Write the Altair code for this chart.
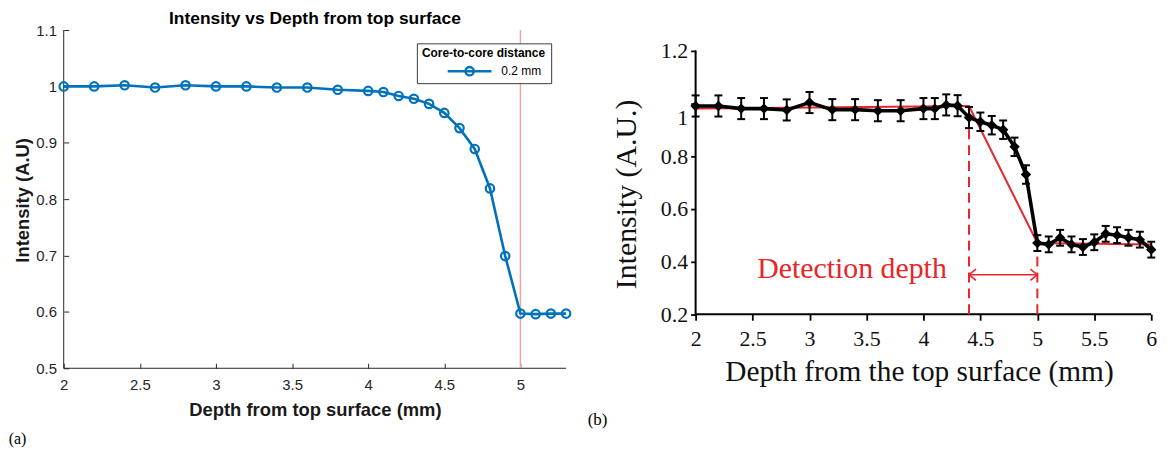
import altair as alt
import pandas as pd

# ---------------- panel (a) data ----------------
depth_a = [2.0, 2.2, 2.4, 2.6, 2.8, 3.0, 3.2, 3.4, 3.6, 3.8, 4.0, 4.1, 4.2, 4.3,
           4.4, 4.5, 4.6, 4.7, 4.8, 4.9, 5.0, 5.1, 5.2, 5.3]
intensity_a = [1.000, 1.000, 1.002, 0.998, 1.002, 1.000, 1.000, 0.998, 0.998, 0.994,
               0.992, 0.990, 0.983, 0.978, 0.969, 0.953, 0.926, 0.889, 0.819, 0.699,
               0.597, 0.596, 0.597, 0.597]
series_a = "0.2 mm"
xline_a = [5.0]
xticks_a = [2, 2.5, 3, 3.5, 4, 4.5, 5]
yticks_a = [0.5, 0.6, 0.7, 0.8, 0.9, 1.0, 1.1]
xdomain_a = [2, 5.3]
ydomain_a = [0.5, 1.1]

# ---------------- panel (b) data ----------------
depth_b = [2.0, 2.2, 2.4, 2.6, 2.8, 3.0, 3.2, 3.4, 3.6, 3.8, 4.0, 4.1, 4.2, 4.3,
           4.4, 4.5, 4.6, 4.7, 4.8, 4.9, 5.0, 5.1, 5.2, 5.3, 5.4, 5.5, 5.6, 5.7,
           5.8, 5.9, 6.0]
intensity_b = [0.990, 0.990, 0.980, 0.980, 0.975, 1.003, 0.976, 0.976, 0.972, 0.972,
               0.980, 0.980, 0.994, 0.991, 0.946, 0.930, 0.917, 0.900, 0.835, 0.730,
               0.470, 0.465, 0.490, 0.465, 0.455, 0.473, 0.505, 0.500, 0.490, 0.483,
               0.445]
error_b = [0.040, 0.040, 0.040, 0.040, 0.040, 0.040, 0.040, 0.040, 0.040, 0.040,
           0.040, 0.040, 0.040, 0.040, 0.040, 0.035, 0.035, 0.035, 0.035, 0.035,
           0.030, 0.030, 0.030, 0.030, 0.030, 0.030, 0.030, 0.030, 0.030, 0.030,
           0.030]
fit_depth = [2.0, 4.4, 5.0, 6.0]
fit_intensity = [0.980, 0.990, 0.470, 0.465]
marker_depth = [4.4, 5.0]
marker_top = [0.905, 0.440]
arrow_level = 0.35
note_text = "Detection depth"
note_depth = 2.54
note_level = 0.338
xticks_b = [2, 2.5, 3, 3.5, 4, 4.5, 5, 5.5, 6]
yticks_b = [0.2, 0.4, 0.6, 0.8, 1.0, 1.2]
xdomain_b = [2, 6]
ydomain_b = [0.2, 1.278]

SANS = "Liberation Sans"
SERIF = "Liberation Serif"
GRAY = "#262626"
BLUE = "#0072BD"
RED = "#e8262a"

W_A, H_A = 505, 340
W_B, H_B = 458, 285.7

# ================= panel (a) =================
sx_a = alt.Scale(domain=xdomain_a, nice=False, zero=False)
sy_a = alt.Scale(domain=ydomain_a, nice=False, zero=False)
ax_xa = alt.Axis(values=xticks_a, format="~g", title="Depth from top surface (mm)",
                 domain=False, grid=False, offset=-5, tickSize=5, tickWidth=1,
                 tickColor=GRAY, labelPadding=9.6, labelFont=SANS, labelFontSize=15,
                 labelColor=GRAY, labelFlush=False, labelOverlap=False,
                 titleFont=SANS, titleFontSize=18.5, titleFontWeight="bold",
                 titleColor="#1a1a1a", titleX=W_A / 2, titleY=52.4,
                 titleBaseline="alphabetic", titleAlign="center")
ax_ya = alt.Axis(values=yticks_a, format="~g", title="Intensity (A.U)",
                 domain=False, grid=False, offset=-5, tickSize=5, tickWidth=1,
                 tickColor=GRAY, labelPadding=7.3, labelFont=SANS, labelFontSize=15,
                 labelColor=GRAY, labelFlush=False, labelOverlap=False,
                 titleFont=SANS, titleFontSize=18.5, titleFontWeight="bold",
                 titleColor="#1a1a1a", titleX=-40, titleY=170.7, titleAngle=-90,
                 titleBaseline="alphabetic", titleAlign="center")


def XA(field):
    return alt.X(field, type="quantitative", scale=sx_a, axis=ax_xa)


def YA(field):
    return alt.Y(field, type="quantitative", scale=sy_a, axis=ax_ya)


legend_a = alt.Legend(
    orient="none", legendX=355, legendY=13.4, title="Core-to-core distance",
    titleFont=SANS, titleFontSize=12, titleFontWeight="bold", titleColor="#000000",
    titleAnchor="middle", titlePadding=4, labelFont=SANS, labelFontSize=12,
    labelColor="#000000", strokeColor="#3a3a3a", fillColor="#ffffff", padding=5,
    symbolType="M-1,0L1,0M-0.19,0A0.19,0.19,0,1,1,0.19,0A0.19,0.19,0,1,1,-0.19,0",
    symbolSize=1936, symbolStrokeWidth=2.5, symbolFillColor="transparent",
    clipHeight=14, symbolOffset=20.5, labelOffset=8.4)
color_a = alt.Color("series:N", scale=alt.Scale(range=[BLUE]), legend=legend_a)

df_a = pd.DataFrame({"depth": depth_a, "intensity": intensity_a, "series": series_a})
frame_a = pd.DataFrame({"x": [xdomain_a[0]], "x2": [xdomain_a[1]],
                        "y": [ydomain_a[0]], "y2": [ydomain_a[1]]})

axis_x_line_a = alt.Chart(frame_a).mark_rule(color=GRAY, strokeWidth=1).encode(
    x=XA("x"), x2="x2", y=YA("y"))
axis_y_line_a = alt.Chart(frame_a).mark_rule(color=GRAY, strokeWidth=1).encode(
    x=XA("x"), y=YA("y"), y2="y2")
xline = alt.Chart(pd.DataFrame({"x": xline_a})).mark_rule(
    color="#f4a3a3", strokeWidth=1.5).encode(x=XA("x"))
line_a = alt.Chart(df_a).mark_line(strokeWidth=2.6).encode(
    x=XA("depth"), y=YA("intensity"), color=color_a)
pts_a = alt.Chart(df_a).mark_point(shape="circle", size=72, filled=False,
                                   strokeWidth=2.2, opacity=1).encode(
    x=XA("depth"), y=YA("intensity"), color=color_a)
lab_a = alt.Chart(pd.DataFrame({"t": ["(a)"]})).mark_text(
    align="left", baseline="alphabetic", font=SERIF, fontSize=16, color="#000000"
).encode(text="t:N", x=alt.value(-55.3), y=alt.value(416))

panel_a = alt.layer(axis_x_line_a, axis_y_line_a, xline, line_a, pts_a, lab_a).properties(
    width=W_A, height=H_A,
    title=alt.TitleParams("Intensity vs Depth from top surface", font=SANS, fontSize=17.5,
                          fontWeight="bold", color="#000000", anchor="middle",
                          frame="group", offset=-18, baseline="alphabetic"))

# ================= panel (b) =================
sx_b = alt.Scale(domain=xdomain_b, nice=False, zero=False)
sy_b = alt.Scale(domain=ydomain_b, nice=False, zero=False)
ax_xb = alt.Axis(values=xticks_b, format="~g", title="Depth from the top surface (mm)",
                 domain=False, grid=False, tickSize=6, tickWidth=1.8, tickColor="#000000",
                 labelPadding=8, labelFont=SERIF, labelFontSize=22, labelColor="#111111",
                 labelFlush=False, labelOverlap=False, titleFont=SERIF, titleFontSize=29.5,
                 titleFontWeight="normal", titleColor="#111111", titleX=224.5, titleY=66.7,
                 titleBaseline="alphabetic", titleAlign="center")
ax_yb = alt.Axis(values=yticks_b, format="~g", title="Intensity (A.U.)",
                 domain=False, grid=False, tickSize=5, tickWidth=1.8, tickColor="#000000",
                 labelPadding=3, labelFont=SERIF, labelFontSize=22, labelColor="#111111",
                 labelFlush=False, labelOverlap=False,
                 labelOffset={"condition": {"test": "datum.value === 1", "value": 14},
                              "value": 0},
                 titleFont=SERIF, titleFontSize=30, titleFontWeight="normal",
                 titleColor="#111111", titleX=-60.5, titleY=164.7, titleAngle=-90,
                 titleBaseline="alphabetic", titleAlign="center")


def XB(field):
    return alt.X(field, type="quantitative", scale=sx_b, axis=ax_xb)


def YB(field):
    return alt.Y(field, type="quantitative", scale=sy_b, axis=ax_yb)


df_b = pd.DataFrame({"depth": depth_b, "intensity": intensity_b, "err": error_b})
df_b["lo"] = df_b["intensity"] - df_b["err"]
df_b["hi"] = df_b["intensity"] + df_b["err"]
df_fit = pd.DataFrame({"depth": fit_depth, "intensity": fit_intensity})
df_mark = pd.DataFrame({"depth": marker_depth, "top": marker_top,
                        "base": [yticks_b[0]] * len(marker_depth)})
df_arrow = pd.DataFrame({"x": [marker_depth[0]], "x2": [marker_depth[1]],
                         "y": [arrow_level]})
frame_b = pd.DataFrame({"x": [xticks_b[0]], "x2": [xticks_b[-1]],
                        "y": [yticks_b[0]], "y2": [yticks_b[-1]]})

axis_x_line_b = alt.Chart(frame_b).mark_rule(color="#000000", strokeWidth=2).encode(
    x=XB("x"), x2="x2", y=YB("y"))
axis_y_line_b = alt.Chart(frame_b).mark_rule(color="#000000", strokeWidth=2).encode(
    x=XB("x"), y=YB("y"), y2="y2")
fit_b = alt.Chart(df_fit).mark_line(color=RED, strokeWidth=2).encode(
    x=XB("depth"), y=YB("intensity"))
dash_b = alt.Chart(df_mark).mark_rule(color=RED, strokeWidth=2, strokeDash=[10, 6]).encode(
    x=XB("depth"), y=YB("base"), y2="top")
arrow_b = alt.Chart(df_arrow).mark_rule(color=RED, strokeWidth=1.6).encode(
    x=XB("x"), x2="x2", y=YB("y"))
head_l = alt.Chart(df_arrow).mark_point(shape="M1,-0.8L0,0L1,0.8", size=196, filled=False,
                                        strokeWidth=1.6, color=RED, opacity=1).encode(
    x=XB("x"), y=YB("y"))
head_r = alt.Chart(df_arrow).mark_point(shape="M-1,-0.8L0,0L-1,0.8", size=196, filled=False,
                                        strokeWidth=1.6, color=RED, opacity=1).encode(
    x=XB("x2"), y=YB("y"))
err_b = alt.Chart(df_b).mark_rule(color="#000000", strokeWidth=2).encode(
    x=XB("depth"), y=YB("lo"), y2="hi")
cap_lo = alt.Chart(df_b).mark_point(shape="M-1,0L1,0", size=64, filled=False,
                                    strokeWidth=2, color="#000000", opacity=1).encode(
    x=XB("depth"), y=YB("lo"))
cap_hi = alt.Chart(df_b).mark_point(shape="M-1,0L1,0", size=64, filled=False,
                                    strokeWidth=2, color="#000000", opacity=1).encode(
    x=XB("depth"), y=YB("hi"))
line_b = alt.Chart(df_b).mark_line(color="#000000", strokeWidth=3.6).encode(
    x=XB("depth"), y=YB("intensity"))
pts_b = alt.Chart(df_b).mark_point(shape="diamond", size=110, filled=True,
                                   color="#000000", opacity=1).encode(
    x=XB("depth"), y=YB("intensity"))
note_b = alt.Chart(pd.DataFrame({"t": [note_text], "x": [note_depth], "y": [note_level]})
                   ).mark_text(align="left", baseline="alphabetic", font=SERIF,
                               fontSize=30, color=RED).encode(
    text="t:N", x=XB("x"), y=YB("y"))
lab_b = alt.Chart(pd.DataFrame({"t": ["(b)"]})).mark_text(
    align="left", baseline="alphabetic", font=SERIF, fontSize=17, color="#000000"
).encode(text="t:N", x=alt.value(-108.5), y=alt.value(396.7))

panel_b = alt.layer(axis_x_line_b, axis_y_line_b, fit_b, dash_b, arrow_b, head_l, head_r,
                    err_b, cap_lo, cap_hi, line_b, pts_b, note_b, lab_b).properties(
    width=W_B, height=H_B)

chart = alt.hconcat(panel_a, panel_b, spacing=130.2, bounds="flush").properties(
    padding={"left": 0, "top": 0, "right": 0, "bottom": 0}
).configure_view(stroke=None)

chart.save("out.html", embed_options={"renderer": "svg", "actions": False})
